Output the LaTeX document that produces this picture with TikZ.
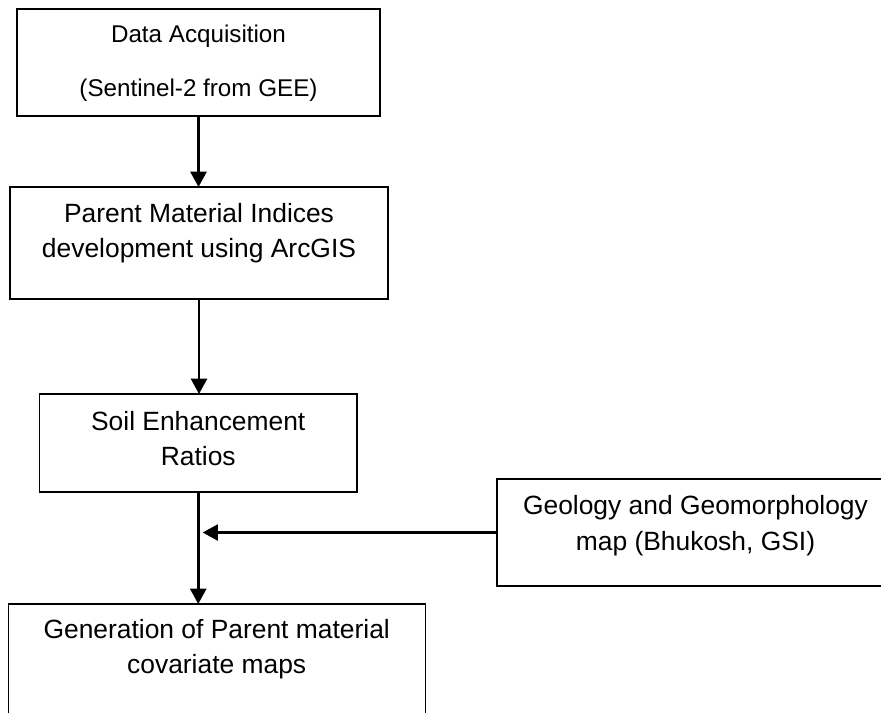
\documentclass[tikz,border=0pt]{standalone}
\usepackage{fontspec}
\setmainfont{Liberation Sans}
\usetikzlibrary{arrows.meta}
\begin{document}
\begin{tikzpicture}[x=0.75pt,y=-0.75pt,
  box/.style={draw, line width=0.8pt, inner sep=0pt, outer sep=0pt},
  txt/.style={anchor=base, inner sep=0pt, font=\fontsize{19.8}{23}\selectfont},
  smalltxt/.style={anchor=base, inner sep=0pt, font=\fontsize{18.15}{21}\selectfont},
  arr/.style={line width=1.9pt, -{Triangle[width=12pt,length=11.5pt]}}]
\useasboundingbox (0,0) rectangle (881,713);
\clip (0,0) rectangle (881,713);
% boxes
\node[box, minimum width=272.25pt, minimum height=80.25pt] (b1) at (198.5,62.5) {};
\node[box, minimum width=283.5pt, minimum height=84pt] (b2) at (199,243) {};
\node[box, minimum width=238.125pt, minimum height=73.5pt] (b3) at (198.25,443) {};
\node[box, minimum width=312.5pt, minimum height=112.5pt] (b4) at (216.7,679) {};
\node[box, minimum width=297.75pt, minimum height=80.25pt] (geo) at (695.5,532.5) {};
% texts
\node[smalltxt] (t1a) at (198.5,43) {Data Acquisition};
\node[smalltxt] (t1b) at (198.5,97) {(Sentinel-2 from GEE)};
\node[txt] (t2a) at (199,222.5) {Parent Material Indices};
\node[txt] (t2b) at (199,257.3) {development using ArcGIS};
\node[txt] (t3a) at (198.25,430) {Soil Enhancement};
\node[txt] (t3b) at (198.25,465) {Ratios};
\node[txt] (t4a) at (216.7,638.3) {Generation of Parent material};
\node[txt] (t4b) at (216.7,673.3) {covariate maps};
\node[txt] (tga) at (695.5,514) {Geology and Geomorphology};
\node[txt] (tgb) at (695.5,550) {map (Bhukosh, GSI)};
% connectors
\draw[arr] (b1.south) -- (b1.south |- b2.north);
\draw[arr] (b2.south) -- (b2.south |- b3.north);
\draw[arr] (b3.south) -- (b3.south |- b4.north);
\coordinate (j) at ([xshift=3.3pt]b3.south |- geo.west);
\draw[arr] (geo.west) -- (j);
\end{tikzpicture}
\end{document}
